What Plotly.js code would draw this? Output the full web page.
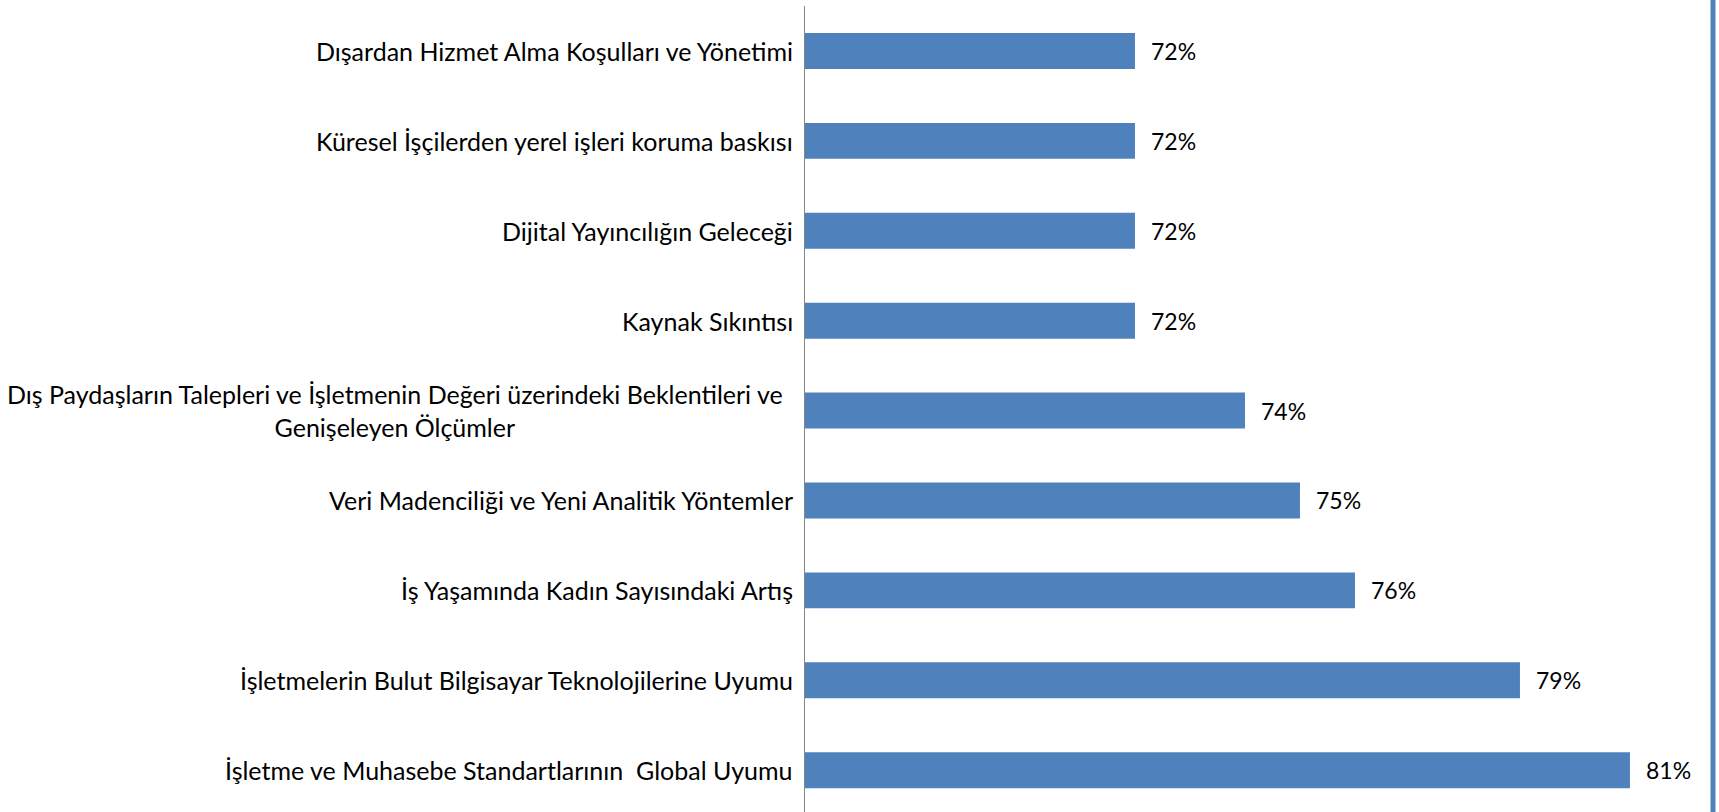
<!DOCTYPE html>
<html>
<head>
<meta charset="utf-8">
<script src="https://cdn.plot.ly/plotly-3.0.1.min.js"></script>
<style>
html,body{margin:0;padding:0;background:#fff;}
#chart{width:1719px;height:812px;}
</style>
</head>
<body>
<div id="chart"></div>
<script>
const categories = [
  "Dışardan Hizmet Alma Koşulları ve Yönetimi",
  "Küresel İşçilerden yerel işleri koruma baskısı",
  "Dijital Yayıncılığın Geleceği",
  "Kaynak Sıkıntısı",
  "Dış Paydaşların Talepleri ve İşletmenin Değeri üzerindeki Beklentileri ve<br>Genişeleyen Ölçümler",
  "Veri Madenciliği ve Yeni Analitik Yöntemler",
  "İş Yaşamında Kadın Sayısındaki Artış",
  "İşletmelerin Bulut Bilgisayar Teknolojilerine Uyumu",
  "İşletme ve Muhasebe Standartlarının  Global Uyumu"
];
const values = [0.72, 0.72, 0.72, 0.72, 0.74, 0.75, 0.76, 0.79, 0.81];
const valueLabels = ["72%", "72%", "72%", "72%", "74%", "75%", "76%", "79%", "81%"];

const FONT = "Lato, 'Open Sans', sans-serif";
const idx = categories.map((c, i) => i);

const trace = {
  type: 'bar',
  orientation: 'h',
  x: values,
  y: idx,
  width: 0.4,
  marker: {color: '#4F81BD', line: {width: 0}},
  hoverinfo: 'skip'
};

const annotations = [];
categories.forEach((c, i) => {
  const multi = c.indexOf('<br>') >= 0;
  annotations.push({
    xref: 'paper', yref: 'y', x: 0, y: i,
    xanchor: 'right', yanchor: 'middle', xshift: multi ? -20 : -10,
    text: c, showarrow: false, align: 'center',
    font: {family: FONT, size: 25, color: '#000'}
  });
  annotations.push({
    xref: 'x', yref: 'y', x: values[i], y: i,
    xanchor: 'left', yanchor: 'middle', xshift: 14,
    text: valueLabels[i], showarrow: false,
    font: {family: FONT, size: 23, color: '#000'}
  });
});

const layout = {
  width: 1719, height: 812,
  margin: {l: 805, r: 6, t: 6, b: 0, pad: 0},
  paper_bgcolor: '#fff', plot_bgcolor: '#fff',
  showlegend: false,
  bargap: 0.6,
  xaxis: {range: [0.66, 0.8251], visible: false, fixedrange: true},
  yaxis: {
    range: [8.465, -0.5], showticklabels: false, ticks: '',
    showgrid: false, zeroline: false,
    showline: true, linecolor: '#868686', linewidth: 1.5
  },
  annotations: annotations,
  shapes: [{
    type: 'line', xref: 'paper', yref: 'paper',
    x0: 1, x1: 1, y0: -0.05, y1: 1.05,
    line: {color: '#4F81BD', width: 5}
  }]
};

Plotly.newPlot('chart', [trace], layout, {displayModeBar: false, staticPlot: true});
</script>
</body>
</html>
